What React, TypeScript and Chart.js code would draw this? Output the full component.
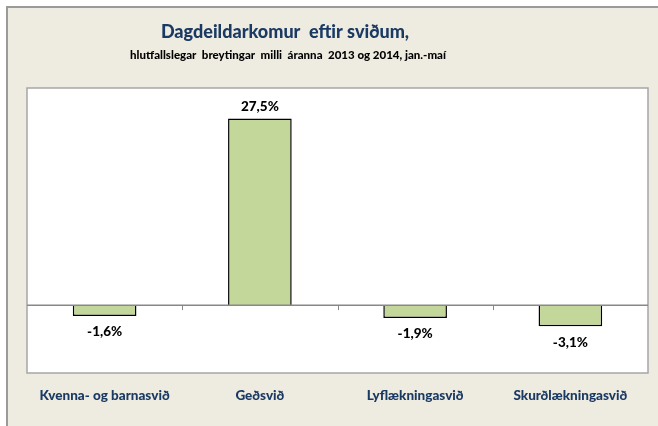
import React, { useEffect, useRef } from "react";
import { Chart, registerables } from "chart.js";

Chart.register(...registerables);

const categories = ["Kvenna- og barnasvið", "Geðsvið", "Lyflækningasvið", "Skurðlækningasvið"];
const values = [-1.6, 27.5, -1.9, -3.1];
const valueLabels = ["-1,6%", "27,5%", "-1,9%", "-3,1%"];
const titleText = "Dagdeildarkomur  eftir sviðum,";
const subtitleText = "hlutfallslegar  breytingar  milli  áranna  2013 og 2014, jan.-maí";

const FONT = "Lato, 'Open Sans', sans-serif";

const decor = {
  id: "decor",
  beforeDraw(chart: any) {
    const { ctx, chartArea } = chart;
    ctx.save();
    ctx.fillStyle = "#ffffff";
    ctx.fillRect(0, 0, chart.width, chart.height);
    ctx.fillStyle = "#eeebe0";
    ctx.fillRect(7, 7, chart.width - 7, chart.height - 7);
    ctx.strokeStyle = "#9a9a9a";
    ctx.lineWidth = 2;
    ctx.beginPath();
    ctx.moveTo(7, chart.height);
    ctx.lineTo(7, 7);
    ctx.lineTo(chart.width, 7);
    ctx.stroke();
    ctx.fillStyle = "#ffffff";
    ctx.fillRect(chartArea.left, chartArea.top, chartArea.right - chartArea.left, chartArea.bottom - chartArea.top);
    ctx.strokeStyle = "#a6a6a6";
    ctx.lineWidth = 1.5;
    ctx.strokeRect(chartArea.left, chartArea.top, chartArea.right - chartArea.left, chartArea.bottom - chartArea.top);
    ctx.restore();
  },
  afterDatasetsDraw(chart: any) {
    const { ctx } = chart;
    const x = chart.scales.x;
    const y = chart.scales.y;
    const y0 = y.getPixelForValue(0);
    ctx.save();
    ctx.strokeStyle = "#888888";
    ctx.lineWidth = 1.5;
    ctx.beginPath();
    ctx.moveTo(chart.chartArea.left, y0);
    ctx.lineTo(chart.chartArea.right, y0);
    ctx.stroke();
    const step = x.getPixelForValue(1) - x.getPixelForValue(0);
    ctx.lineWidth = 1;
    for (let i = 0; i < categories.length - 1; i++) {
      const px = Math.round(x.getPixelForValue(i) + step / 2) + 0.5;
      ctx.beginPath();
      ctx.moveTo(px, y0);
      ctx.lineTo(px, y0 + 5);
      ctx.stroke();
    }
    ctx.restore();
  },
  afterDraw(chart: any) {
    const { ctx } = chart;
    const x = chart.scales.x;
    const y = chart.scales.y;
    ctx.save();
    ctx.textAlign = "center";
    ctx.textBaseline = "middle";
    // title
    ctx.fillStyle = "#1b3a63";
    ctx.font = `900 18px ${FONT}`;
    ctx.fillText(titleText, 285, 32);
    ctx.fillStyle = "#000000";
    ctx.font = `900 11.5px ${FONT}`;
    ctx.fillText(subtitleText, 288, 55);
    // value labels
    ctx.font = `900 13.5px ${FONT}`;
    ctx.fillStyle = "#000000";
    values.forEach((v, i) => {
      const px = x.getPixelForValue(i);
      const py = y.getPixelForValue(v);
      ctx.fillText(valueLabels[i], px, v >= 0 ? py - 12 : py + 16);
    });
    // category labels
    ctx.font = `900 13.5px ${FONT}`;
    ctx.fillStyle = "#1b3a63";
    categories.forEach((c, i) => {
      ctx.fillText(c, x.getPixelForValue(i), 396);
    });
    ctx.restore();
  },
};

export default function App() {
  const ref = useRef<HTMLCanvasElement>(null);
  useEffect(() => {
    if (!ref.current) return;
    const chart = new Chart(ref.current, {
      type: "bar",
      data: {
        labels: categories,
        datasets: [
          {
            data: values,
            backgroundColor: "#c4d79b",
            borderColor: "#000000",
            borderWidth: 1.5,
            barPercentage: 0.41,
            categoryPercentage: 1,
          },
        ],
      },
      options: {
        responsive: false,
        animation: false,
        layout: { padding: { left: 27, right: 10, top: 88, bottom: 53 } },
        plugins: { legend: { display: false }, tooltip: { enabled: false }, title: { display: false } },
        scales: {
          x: { display: false },
          y: { display: false, min: -10, max: 32 },
        },
      },
      plugins: [decor],
    });
    return () => chart.destroy();
  }, []);
  return (
    <div style={{ position: "absolute", left: 0, top: 0, width: 658, height: 426 }}>
      <canvas ref={ref} width={658} height={426} />
    </div>
  );
}
